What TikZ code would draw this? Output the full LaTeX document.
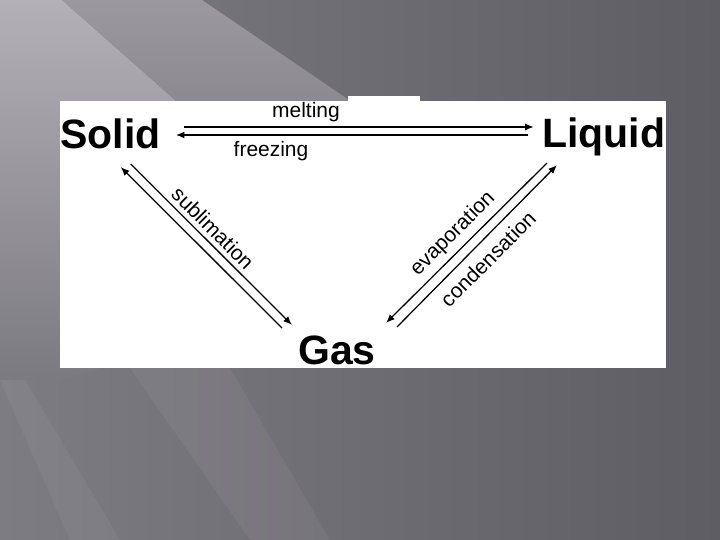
\documentclass[tikz,border=0pt]{standalone}
\usepackage{fontspec}
\setmainfont{Liberation Sans}
\usetikzlibrary{arrows.meta}

\definecolor{bgleft}{HTML}{7E7C83}
\definecolor{bgright}{HTML}{5E5D63}
\definecolor{beamtop}{HTML}{B3B1B7}
\definecolor{beamlow}{HTML}{7C7A81}
\definecolor{beammid}{HTML}{9B999F}
\definecolor{beamend}{HTML}{6F6D74}

\tikzset{
  phase/.style={font=\bfseries\fontsize{35}{40}\selectfont, inner sep=0pt},
  change/.style={font=\fontsize{17.9}{20}\selectfont, inner sep=0pt},
  flow/.style={line width=1.6pt, -{Latex[length=7.5pt,width=6pt]}},
  slant/.style={line width=1.1pt, -{Latex[length=7.5pt,width=6pt]}}
}

\begin{document}
\begin{tikzpicture}[x=0.03cm,y=-0.03cm]
  % slide background
  \shade[left color=bgleft, right color=bgright] (0,0) rectangle (720,540);
  \shade[top color=beamtop, bottom color=beamlow] (0,0) -- (62,0) -- (175,100) -- (330,300) -- (60,380) -- (0,380) -- cycle;
  \shade[top color=beammid, bottom color=beamend] (62,0) -- (202,0) -- (349,100) -- (560,300) -- (330,300) -- (175,100) -- cycle;
  \fill[white, opacity=.05] (130,368) -- (230,368) -- (330,540) -- (250,540) -- cycle;
  \fill[white, opacity=.05] (0,380) -- (25,380) -- (120,540) -- (70,540) -- cycle;

  \fill[white] (60,101) rectangle (666,368);
  \fill[white] (348,96) rectangle (420,101);

  \node[phase, anchor=base west] (solid) at (60,149) {Solid};
  \node[phase, anchor=base west] (liquid) at (542,148) {Liquid};
  \node[phase, anchor=base west] (gas) at (298,365) {Gas};

  \draw[flow] ([shift={(23,-22)}]solid.base east) -- ([shift={(-8,-21)}]liquid.base west);
  \draw[flow] ([shift={(-14,-13)}]liquid.base west) -- ([shift={(15,-14)}]solid.base east);
  \draw[slant] ([shift={(-30,15)}]solid.base east) -- ([shift={(-6,-40)}]gas.base west);
  \draw[slant] ([shift={(-16,-37)}]gas.base west) -- ([shift={(-40,18)}]solid.base east);
  \draw[slant] ([shift={(5,15)}]liquid.base west) -- ([shift={(10,-42)}]gas.base east);
  \draw[slant] ([shift={(21,-38)}]gas.base east) -- ([shift={(15,17)}]liquid.base west);

  \node[change, anchor=base] (melt) at (306,118) {melting};
  \node[change, anchor=base] (freeze) at (271,157) {freezing};
  \node[change, rotate=-45] (subl) at (213,228) {sublimation};
  \node[change, rotate=45] (evap) at (453,234) {evaporation};
  \node[change, rotate=45] (cond) at (488,259) {condensation};
\end{tikzpicture}
\end{document}
